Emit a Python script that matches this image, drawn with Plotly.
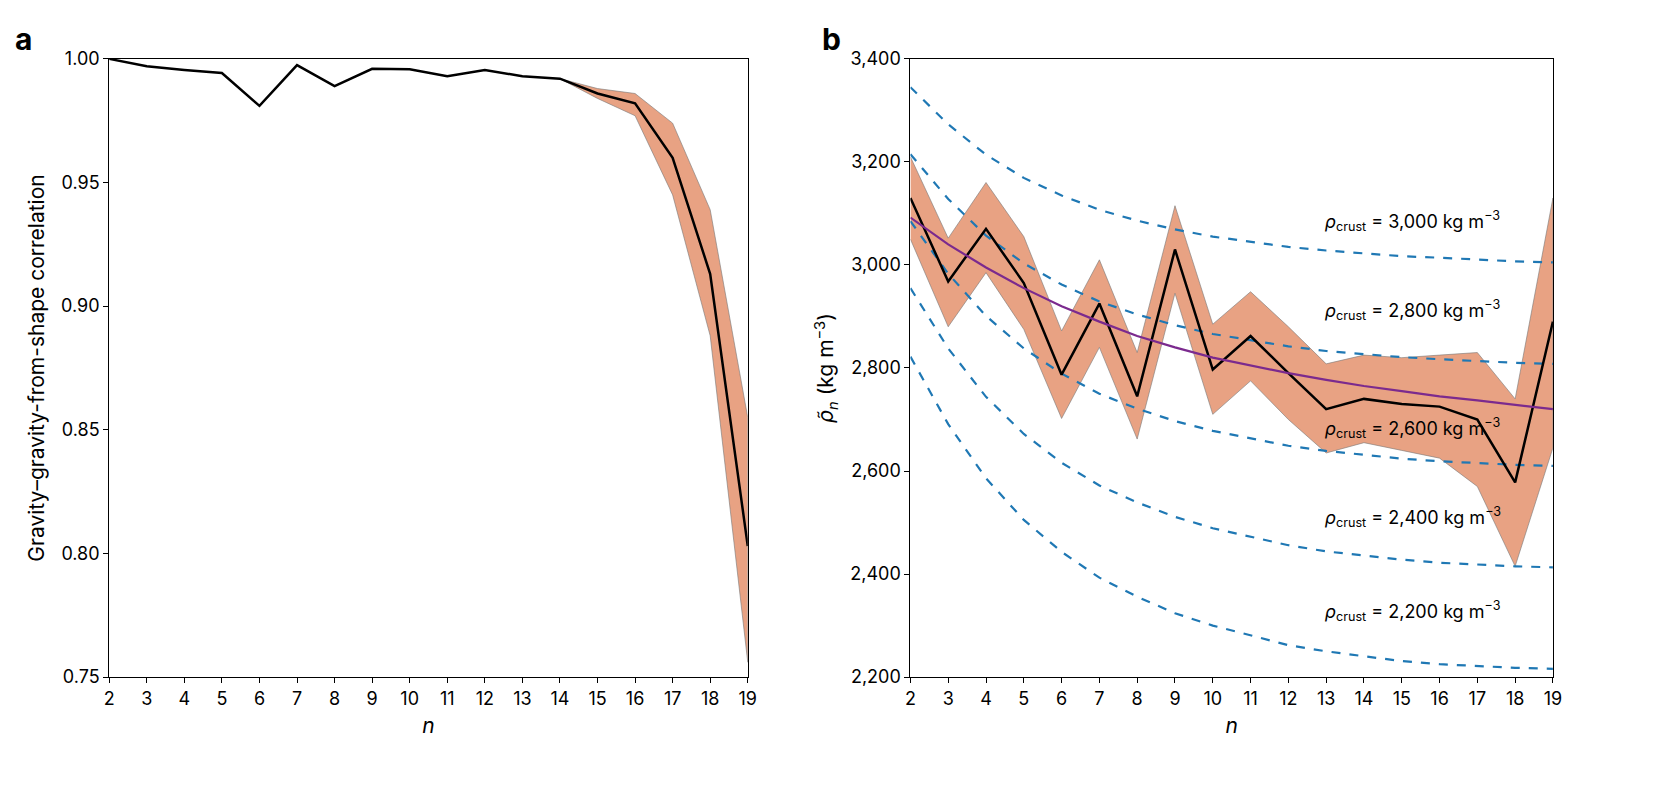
import plotly.graph_objects as go

n = list(range(2, 20))
# Panel a
corr = [1.0, 0.997, 0.9955, 0.9943, 0.981, 0.9975, 0.989, 0.996, 0.9958, 0.993, 0.9955, 0.993, 0.992, 0.986, 0.982, 0.960, 0.913, 0.803]
corr_hi = [1.0, 0.997, 0.9955, 0.9943, 0.981, 0.9975, 0.989, 0.996, 0.9958, 0.993, 0.9955, 0.993, 0.992, 0.988, 0.986, 0.974, 0.939, 0.855]
corr_lo = [1.0, 0.997, 0.9955, 0.9943, 0.981, 0.9975, 0.989, 0.996, 0.9958, 0.993, 0.9955, 0.993, 0.992, 0.984, 0.977, 0.945, 0.888, 0.756]
band_a_start = 12  # index of n=14

# Panel b
rho = [3130, 2968, 3070, 2965, 2787, 2925, 2745, 3030, 2797, 2862, 2790, 2720, 2740, 2730, 2725, 2700, 2578, 2890]
rho_hi = [3210, 3052, 3160, 3055, 2872, 3010, 2830, 3115, 2885, 2948, 2880, 2808, 2825, 2820, 2825, 2830, 2740, 3130]
rho_lo = [3050, 2880, 2985, 2875, 2702, 2840, 2662, 2945, 2710, 2775, 2700, 2635, 2655, 2640, 2625, 2570, 2415, 2645]
fit = [3092, 3040, 2995, 2955, 2920, 2890, 2862, 2840, 2820, 2805, 2790, 2777, 2765, 2755, 2745, 2737, 2728, 2720]
crust = {
    "3,000": [3345, 3273, 3214, 3169, 3135, 3107, 3086, 3069, 3055, 3045, 3035, 3028, 3022, 3017, 3014, 3010, 3007, 3005],
    "2,800": [3215, 3128, 3057, 3003, 2962, 2929, 2904, 2883, 2866, 2854, 2842, 2833, 2827, 2821, 2817, 2813, 2810, 2808],
    "2,600": [3085, 2983, 2901, 2838, 2789, 2750, 2721, 2697, 2678, 2663, 2649, 2639, 2632, 2624, 2619, 2615, 2612, 2610],
    "2,400": [2955, 2838, 2744, 2672, 2616, 2572, 2539, 2511, 2489, 2472, 2456, 2444, 2436, 2428, 2422, 2418, 2415, 2413],
    "2,200": [2822, 2691, 2586, 2505, 2443, 2393, 2356, 2324, 2300, 2281, 2262, 2250, 2240, 2231, 2225, 2221, 2218, 2216],
}
label_y = {"3,000": 3085, "2,800": 2912, "2,600": 2683, "2,400": 2510, "2,200": 2328}

FILL = "#E8A283"
fig = go.Figure()
na = n[band_a_start:]
fig.add_trace(go.Scatter(x=na + na[::-1], y=corr_hi[band_a_start:] + corr_lo[band_a_start:][::-1], fill="toself",
                         fillcolor=FILL, line=dict(color="#777", width=0.6), mode="lines", xaxis="x", yaxis="y"))
fig.add_trace(go.Scatter(x=n, y=corr, mode="lines", line=dict(color="black", width=2.5), xaxis="x", yaxis="y"))

fig.add_trace(go.Scatter(x=n + n[::-1], y=rho_hi + rho_lo[::-1], fill="toself", fillcolor=FILL,
                         line=dict(color="#777", width=0.6), mode="lines", xaxis="x2", yaxis="y2"))
for k, v in crust.items():
    fig.add_trace(go.Scatter(x=n, y=v, mode="lines", line=dict(color="#1F78B4", width=2.2, dash="dash"), xaxis="x2", yaxis="y2"))
fig.add_trace(go.Scatter(x=n, y=rho, mode="lines", line=dict(color="black", width=2.5), xaxis="x2", yaxis="y2"))
fig.add_trace(go.Scatter(x=n, y=fit, mode="lines", line=dict(color="#7B2A8E", width=2.2), xaxis="x2", yaxis="y2"))

for k, yv in label_y.items():
    fig.add_annotation(x=12.9, y=yv, xref="x2", yref="y2", xanchor="left", showarrow=False,
                       text=f"<i>ρ</i><sub>crust</sub> = {k} kg m<sup>−3</sup>", font=dict(size=18, color="black"))

ax = dict(showgrid=False, zeroline=False, showline=True, linecolor="black", linewidth=1, mirror=True,
          ticks="outside", ticklen=5, tickcolor="black", tickfont=dict(size=18, color="black"))
fig.update_layout(
    width=1667, height=788, showlegend=False, plot_bgcolor="white", paper_bgcolor="white",
    margin=dict(l=0, r=0, t=0, b=0), font=dict(family="Inter", color="black"),
    xaxis=dict(ax, domain=[0.0582, 0.4445], range=[2, 19], dtick=1,
               title=dict(text="<i>n</i>", font=dict(size=21), standoff=10)),
    yaxis=dict(ax, domain=[0.142, 0.948], range=[0.75, 1.0], dtick=0.05, tickformat=".2f",
               title=dict(text="Gravity–gravity-from-shape correlation", font=dict(size=21), standoff=10)),
    xaxis2=dict(ax, domain=[0.5429, 0.9316], range=[2, 19], dtick=1, anchor="y2",
                title=dict(text="<i>n</i>", font=dict(size=21), standoff=10)),
    yaxis2=dict(ax, domain=[0.142, 0.948], range=[2200, 3400], dtick=200, tickformat=",", anchor="x2",
                title=dict(text="<i>ρ̃</i><sub><i>n</i></sub> (kg m<sup>−3</sup>)", font=dict(size=21), standoff=10)),
)
fig.add_annotation(x=0.0, y=1.0, xref="paper", yref="paper", xanchor="left", yanchor="top", showarrow=False,
                   text="<b>a</b>", font=dict(size=30))
fig.add_annotation(x=0.488, y=1.0, xref="paper", yref="paper", xanchor="left", yanchor="top", showarrow=False,
                   text="<b>b</b>", font=dict(size=30))
fig.write_html("out.html")
